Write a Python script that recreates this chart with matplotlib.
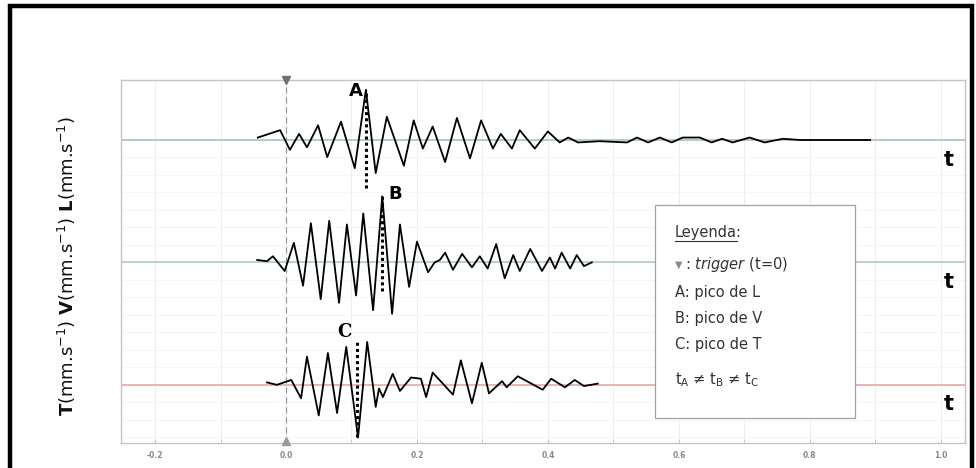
import matplotlib.pyplot as plt
from matplotlib.patches import Rectangle
from matplotlib.lines import Line2D

# time (s) and amplitude (mm/s)
t_L = [-0.043, -0.009, 0.006, 0.020, 0.032, 0.049, 0.063, 0.084, 0.105, 0.122,
       0.137, 0.154, 0.180, 0.195, 0.209, 0.224, 0.243, 0.261, 0.281, 0.298,
       0.316, 0.328, 0.345, 0.357, 0.380, 0.400, 0.418, 0.431, 0.446, 0.479,
       0.521, 0.536, 0.553, 0.571, 0.589, 0.606, 0.632, 0.650, 0.666, 0.682,
       0.708, 0.731, 0.759, 0.785, 0.892]
a_L = [0.2, 0.8, -0.8, 0.5, -0.6, 1.2, -1.4, 1.5, -2.3, 4.1,
       -2.7, 1.9, -2.1, 1.6, -0.7, 1.1, -1.8, 1.8, -1.5, 1.6,
       -0.7, 0.5, -0.7, 0.8, -0.7, 0.7, -0.2, 0.2, -0.2, -0.1,
       -0.2, 0.2, -0.2, 0.2, -0.2, 0.2, 0.2, -0.2, 0.1, -0.2,
       0.2, -0.2, 0.1, 0.0, 0.0]

t_V = [-0.044, -0.029, -0.020, -0.002, 0.012, 0.026, 0.038, 0.053, 0.066, 0.081,
       0.093, 0.107, 0.118, 0.133, 0.147, 0.162, 0.174, 0.188, 0.200, 0.217,
       0.227, 0.235, 0.243, 0.255, 0.269, 0.284, 0.296, 0.308, 0.321, 0.334,
       0.347, 0.357, 0.373, 0.391, 0.403, 0.411, 0.421, 0.434, 0.444, 0.455,
       0.467]
a_V = [0.2, 0.1, 0.5, -0.7, 1.6, -1.9, 3.2, -3.0, 3.4, -3.3,
       3.1, -2.7, 4.0, -3.9, 5.4, -4.2, 3.1, -2.0, 1.7, -0.8,
       0.0, 0.2, 0.8, -0.6, 0.7, -0.4, 0.5, -0.5, 1.5, -1.3,
       0.6, -0.7, 1.1, -0.7, 0.4, -0.5, 0.8, -0.5, 0.6, -0.3,
       0.0]

t_T = [-0.029, -0.014, 0.008, 0.023, 0.032, 0.050, 0.064, 0.078, 0.092, 0.110,
       0.124, 0.137, 0.142, 0.148, 0.163, 0.174, 0.191, 0.206, 0.214, 0.224,
       0.255, 0.267, 0.284, 0.299, 0.310, 0.330, 0.337, 0.354, 0.392, 0.405,
       0.426, 0.441, 0.455, 0.476]
a_T = [0.2, 0.0, 0.4, -1.1, 2.3, -2.5, 2.6, -2.3, 3.1, -4.3,
       3.5, -1.8, -0.3, -1.0, 0.9, -0.5, 0.6, 0.5, -1.0, 1.0,
       -0.8, 2.0, -1.5, 1.8, -0.7, 0.3, -0.2, 0.7, -0.4, 0.5,
       -0.2, 0.4, -0.1, 0.1]

# peak markers: (label, time, amplitude low, amplitude high)
peaks = [("A", 0.122, -3.9, 4.1), ("B", 0.146, -2.3, 5.4), ("C", 0.108, -4.3, 3.6)]

xticks = [-0.2, 0.0, 0.2, 0.4, 0.6, 0.8, 1.0]
xtick_labels = ["-0.2", "0.0", "0.2", "0.4", "0.6", "0.8", "1.0"]

offsets = [20, 10, 0]  # L, V, T
base_colors = ["#a9c3bb", "#afcac2", "#e3aaaa"]

fig = plt.figure(figsize=(9.76, 4.68), dpi=100)
W, H = 976, 468

# black frame of the picture
fig.add_artist(Rectangle((10 / W, -0.05), 962 / W, 1 - 6 / H + 0.05, transform=fig.transFigure,
                         fill=False, edgecolor="black", linewidth=3.2))

ax = fig.add_axes([121 / W, 1 - 443 / H, (965 - 121) / W, (443 - 80) / H])
ax.set_xlim(-0.252, 1.037)
ax.set_ylim(-4.75, 24.9)

for sp in ax.spines.values():
    sp.set_color("#c4c4c4")
    sp.set_linewidth(1.0)

# faint grid
for gx in [i / 10 for i in range(-2, 11)]:
    ax.axvline(gx, color="#eeeeee", lw=0.7, zorder=0)
for k in range(-3, 18):
    gy = -4.75 + k * 10 / 7 + 0.47
    ax.axhline(gy, color="#f5f5f5", lw=0.6, zorder=0)

ax.set_xticks(xticks)
ax.set_xticklabels(xtick_labels, fontsize=5.5, color="#8a8a8a", fontweight="bold")
ax.set_xticks([i / 10 for i in range(-2, 11)], minor=True)
ax.tick_params(axis="x", which="both", direction="in", length=3, color="#c4c4c4", pad=6)
ax.set_yticks([])

# baselines
for off, c in zip(offsets, base_colors):
    ax.axhline(off, color=c, lw=1.2, zorder=1)

# trigger line
ax.axvline(0.0, color="#9a9a9a", lw=0.9, ls=(0, (5, 3)), zorder=1)
ax.plot([0.0], [24.9], marker="v", color="#707070", ms=6, clip_on=False, zorder=4)
ax.plot([0.0], [-4.55], marker="^", color="#9a9a9a", ms=6, clip_on=False, zorder=4)

# traces
for tt, aa, off in zip([t_L, t_V, t_T], [a_L, a_V, a_T], offsets):
    ax.plot(tt, [v + off for v in aa], color="black", lw=1.3, zorder=3)

# peak markers
for (lab, tp, lo, hi), off in zip(peaks, offsets):
    ax.plot([tp, tp], [off + lo, off + hi], color="black", lw=2.2, ls=(0, (1, 1)), zorder=4)

ax.text(0.107, 20 + 4.0, "A", fontsize=13, fontweight="bold", ha="center", va="center")
ax.text(0.167, 10 + 5.6, "B", fontsize=13, fontweight="bold", ha="center", va="center")
ax.text(0.090, 0 + 4.3, "C", fontsize=13, fontweight="bold", family="DejaVu Serif",
        ha="center", va="center")

# "t" labels at right end of each baseline
for off in offsets:
    ax.text(1.012, off - 1.6, "t", fontsize=15, fontweight="bold", ha="center", va="center")

# y label
fig.text(67 / W, 1 - 266 / H,
         r"$\mathbf{T}$(mm.s$^{\mathregular{-1}}$) $\mathbf{V}$(mm.s$^{\mathregular{-1}}$) "
         r"$\mathbf{L}$(mm.s$^{\mathregular{-1}}$)",
         rotation=90, fontsize=13, ha="center", va="center", color="#111111")

# legend box
fig.add_artist(Rectangle((655 / W, 1 - 418 / H), 200 / W, 213 / H, transform=fig.transFigure,
                         fill=True, facecolor="white", edgecolor="#a0a0a0", linewidth=0.9, zorder=5))
lx = 675 / W
tc = "#333333"
fig.text(lx, 1 - 232 / H, "Leyenda:", fontsize=10.5, color=tc, va="center", zorder=6)
# measure "Leyenda" to underline it
fig.canvas.draw()
tmp = fig.text(lx, 1 - 232 / H, "Leyenda", fontsize=10.5, va="center")
bb = tmp.get_window_extent(renderer=fig.canvas.get_renderer())
tmp.remove()
fig.add_artist(Line2D([bb.x0 / W, bb.x1 / W], [(bb.y0 - 1) / H, (bb.y0 - 1) / H],
                      transform=fig.transFigure, color=tc, lw=0.8, zorder=6))
fig.text(lx, 1 - 265 / H, "\u25bc", fontsize=7, color="#8a8a8a", va="center", zorder=6)
fig.text(lx + 10 / W, 1 - 265 / H, r": $\mathit{trigger}$ (t=0)", fontsize=10.5, color=tc,
         va="center", zorder=6)
fig.text(lx, 1 - 292 / H, "A: pico de L", fontsize=10.5, color=tc, va="center", zorder=6)
fig.text(lx, 1 - 318 / H, "B: pico de V", fontsize=10.5, color=tc, va="center", zorder=6)
fig.text(lx, 1 - 345 / H, "C: pico de T", fontsize=10.5, color=tc, va="center", zorder=6)
fig.text(lx, 1 - 380 / H, r"t$_\mathregular{A}$ ≠ t$_\mathregular{B}$ ≠ t$_\mathregular{C}$",
         fontsize=10.5, color=tc, va="center", zorder=6)

fig.savefig("out.png", dpi=100)
